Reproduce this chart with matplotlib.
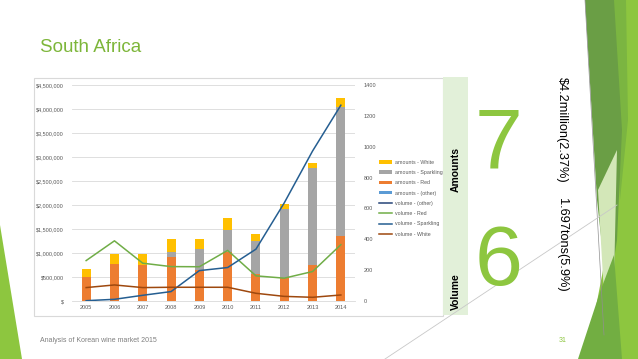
import matplotlib
matplotlib.use("Agg")
import matplotlib.pyplot as plt
import numpy as np
from matplotlib.patches import Polygon, Rectangle

plt.rcParams['font.family'] = ['Liberation Sans', 'DejaVu Sans']

# ---------------- data ----------------
years = ['2005', '2006', '2007', '2008', '2009', '2010', '2011', '2012', '2013', '2014']
amounts_other = [0, 0, 0, 0, 0, 0, 0, 0, 0, 0]
amounts_red = [510000, 770000, 750000, 910000, 640000, 1030000, 560000, 470000, 750000, 1350000]
amounts_sparkling = [0, 0, 0, 110000, 440000, 440000, 680000, 1450000, 2030000, 2690000]
amounts_white = [160000, 210000, 230000, 280000, 210000, 260000, 150000, 110000, 100000, 180000]
volume_other = [np.nan] * 10
volume_red = [262, 390, 245, 223, 222, 328, 163, 148, 191, 365]
volume_sparkling = [2, 11, 37, 61, 197, 217, 336, 636, 972, 1269]
volume_white = [87, 104, 87, 89, 89, 89, 50, 30, 24, 39]

left_ticks = [0, 500000, 1000000, 1500000, 2000000, 2500000, 3000000, 3500000, 4000000, 4500000]
left_labels = ['$', '$500,000', '$1,000,000', '$1,500,000', '$2,000,000', '$2,500,000',
               '$3,000,000', '$3,500,000', '$4,000,000', '$4,500,000']
right_ticks = [0, 200, 400, 600, 800, 1000, 1200, 1400]

C_WHITE = '#FFC000'
C_SPARK = '#A5A5A5'
C_RED = '#ED7D31'
C_OTHER = '#5B9BD5'
C_V_OTHER = '#264478'
C_V_RED = '#70AD47'
C_V_SPARK = '#255E91'
C_V_WHITE = '#9E480E'
GREEN = '#8DC63F'

W, H = 638, 359
fig = plt.figure(figsize=(W / 100, H / 100), dpi=100)
fig.patch.set_facecolor('white')

# background / decoration axes in pixel coordinates
bg = fig.add_axes([0, 0, 1, 1], zorder=0)
bg.set_xlim(0, W)
bg.set_ylim(H, 0)
bg.axis('off')

# right decorations
bg.add_patch(Polygon([(612, 0), (638, 0), (638, 359), (586, 359), (604, 265), (618, 150)],
                     closed=True, color='#8DC63F', lw=0))
bg.add_patch(Polygon([(612, 0), (626, 0), (628, 120), (620, 200)],
                     closed=True, color='#7BB541', lw=0))
bg.add_patch(Polygon([(585, 0), (614, 0), (622, 130), (617, 240), (608, 300), (597, 200)],
                     closed=True, color='#6A9E45', lw=0))
bg.add_patch(Polygon([(598, 190), (617, 150), (614, 280), (604, 295)],
                     closed=True, color='#D3E7B8', lw=0))
bg.add_patch(Polygon([(578, 359), (600, 292), (614, 255), (622, 359)],
                     closed=True, color='#72AE42', lw=0))
bg.plot([585, 604], [0, 335], color='#909090', lw=0.5)
# left bottom triangle
bg.add_patch(Polygon([(0, 225), (22, 359), (0, 359)], closed=True, color='#8DC63F', lw=0))
# thin diagonal line
bg.plot([385, 617], [359, 205], color='#C8C8C8', lw=0.6)

# title
bg.text(40, 47, 'South Africa', color='#7DB63A', fontsize=13.5, va='center', ha='left')

# chart frame
bg.add_patch(Rectangle((34, 78), 409, 238, fill=False, edgecolor='#D9D9D9', lw=0.8))
# green band
bg.add_patch(Rectangle((443, 77), 25, 238, color='#E2F0D9', lw=0))
bg.text(455.5, 170, 'Amounts', rotation=90, fontsize=7.5, fontweight='bold',
        ha='center', va='center', color='black')
bg.text(455.5, 292, 'Volume', rotation=90, fontsize=7.5, fontweight='bold',
        ha='center', va='center', color='black')

# big numbers
bg.text(499, 145, '7', fontsize=62, color=GREEN, ha='center', va='center')
bg.text(499, 263, '6', fontsize=62, color=GREEN, ha='center', va='center')

# rotated texts
bg.text(562, 130, '$4.2million(2.37%)', rotation=-90, fontsize=9.2,
        ha='center', va='center', color='black')
bg.text(562, 245, '1.697tons(5.9%)', rotation=-90, fontsize=9.2,
        ha='center', va='center', color='black')

# footer
bg.text(40, 341, 'Analysis of Korean wine market 2015', fontsize=5, color='#7F7F7F',
        ha='left', va='center')
bg.text(563, 341, '31', fontsize=5, color='#8DC63F', ha='center', va='center')

# ---------------- chart ----------------
x0, x1, ytop, ybot = 72, 355, 85, 301
ax = fig.add_axes([x0 / W, 1 - ybot / H, (x1 - x0) / W, (ybot - ytop) / H], zorder=2)
ax.patch.set_alpha(0)
x = np.arange(len(years))
bw = 0.32

red = np.array(amounts_red)
spark = np.array(amounts_sparkling)
white = np.array(amounts_white)
other = np.array(amounts_other)

b_other = ax.bar(x, other, bw, color=C_OTHER, label='amounts - (other)', zorder=2)
b_red = ax.bar(x, red, bw, bottom=other, color=C_RED, label='amounts - Red', zorder=2)
b_spark = ax.bar(x, spark, bw, bottom=other + red, color=C_SPARK, label='amounts - Sparkling', zorder=2)
b_white = ax.bar(x, white, bw, bottom=other + red + spark, color=C_WHITE, label='amounts - White', zorder=2)

ax.set_xlim(-0.5, len(years) - 0.5)
ax.set_ylim(0, 4500000)
ax.set_yticks(left_ticks)
ax.set_yticklabels(left_labels)
ax.set_xticks(x)
ax.set_xticklabels(years)
ax.grid(axis='y', color='#D9D9D9', lw=0.6, zorder=0)
ax.set_axisbelow(True)
for s in ax.spines.values():
    s.set_visible(False)
ax.spines['bottom'].set_visible(True)
ax.spines['bottom'].set_color('#D9D9D9')
ax.spines['bottom'].set_linewidth(0.6)
ax.tick_params(axis='both', length=0, labelsize=4, labelcolor='#595959')
ax.tick_params(axis='y', pad=6)
ax.tick_params(axis='x', pad=3)

ax2 = ax.twinx()
ax2.set_ylim(0, 1400)
ax2.set_yticks(right_ticks)
for s in ax2.spines.values():
    s.set_visible(False)
ax2.tick_params(axis='y', length=0, labelsize=4, labelcolor='#595959', pad=6)

lw = 1.1
l_other, = ax2.plot(x, volume_other, color=C_V_OTHER, lw=lw, label='volume - (other)')
l_red, = ax2.plot(x, volume_red, color=C_V_RED, lw=lw, label='volume - Red')
l_spark, = ax2.plot(x, volume_sparkling, color=C_V_SPARK, lw=lw, label='volume - Sparkling')
l_white, = ax2.plot(x, volume_white, color=C_V_WHITE, lw=lw, label='volume - White')

handles = [b_white, b_spark, b_red, b_other, l_other, l_red, l_spark, l_white]
labels = [h.get_label() for h in handles]
fig.legend(handles, labels, loc='upper left', bbox_to_anchor=(374 / W, 1 - 155 / H),
           fontsize=3.8, frameon=False, labelspacing=1.0, handlelength=2.6,
           handleheight=0.6, handletextpad=0.4, labelcolor='#595959')

fig.savefig('out.png', dpi=100)
